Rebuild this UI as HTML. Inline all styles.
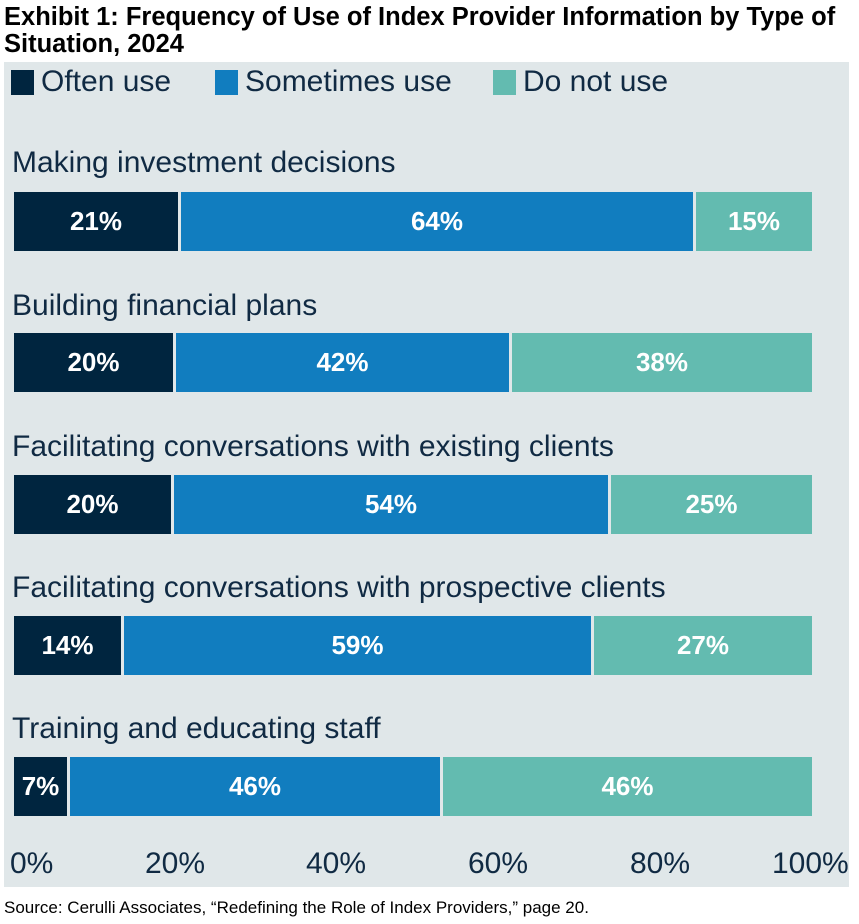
<!DOCTYPE html>
<html><head><style>
body{margin:0;width:859px;height:924px;background:#fff;position:relative;overflow:hidden;font-family:"Liberation Sans",sans-serif}
.t{position:absolute;left:4px;top:4px;font-weight:bold;font-size:25.5px;line-height:27px;color:#000;white-space:nowrap}
.p{position:absolute;left:4px;top:62px;width:845px;height:825px;background:#e0e7e9}
.a{position:absolute;white-space:nowrap;color:#102a43;font-size:30px}
.s{position:absolute;height:59px;color:#fff;font-weight:bold;font-size:26px;line-height:59px;text-align:center}
.d{background:#00253f}.b{background:#117dbf}.g{background:#63bbb0}
.src{position:absolute;left:4px;top:898px;font-size:17px;color:#000;white-space:nowrap}
.sq{position:absolute;top:70px;width:23px;height:25px}
</style></head><body>
<div class="t">Exhibit 1: Frequency of Use of Index Provider Information by Type of<br>Situation, 2024</div>
<div class="p"></div>
<div class="sq d" style="left:11px"></div><div class="a" style="left:41px;top:65px">Often use</div>
<div class="sq b" style="left:215px"></div><div class="a" style="left:245px;top:65px">Sometimes use</div>
<div class="sq g" style="left:493px"></div><div class="a" style="left:523px;top:65px">Do not use</div>

<div class="a" style="left:12px;top:146px">Making investment decisions</div>
<div class="s d" style="left:14px;top:192px;width:164px">21%</div>
<div class="s b" style="left:181px;top:192px;width:512px">64%</div>
<div class="s g" style="left:696px;top:192px;width:116px">15%</div>

<div class="a" style="left:12px;top:289px">Building financial plans</div>
<div class="s d" style="left:14px;top:333px;width:159px">20%</div>
<div class="s b" style="left:176px;top:333px;width:333px">42%</div>
<div class="s g" style="left:512px;top:333px;width:300px">38%</div>

<div class="a" style="left:12px;top:430px">Facilitating conversations with existing clients</div>
<div class="s d" style="left:14px;top:475px;width:157px">20%</div>
<div class="s b" style="left:174px;top:475px;width:434px">54%</div>
<div class="s g" style="left:611px;top:475px;width:201px">25%</div>

<div class="a" style="left:12px;top:571px">Facilitating conversations with prospective clients</div>
<div class="s d" style="left:14px;top:616px;width:107px">14%</div>
<div class="s b" style="left:124px;top:616px;width:467px">59%</div>
<div class="s g" style="left:594px;top:616px;width:218px">27%</div>

<div class="a" style="left:12px;top:712px">Training and educating staff</div>
<div class="s d" style="left:14px;top:757px;width:53px">7%</div>
<div class="s b" style="left:70px;top:757px;width:370px">46%</div>
<div class="s g" style="left:443px;top:757px;width:369px">46%</div>

<div class="a" style="left:10px;top:847px">0%</div>
<div class="a" style="left:145px;top:847px">20%</div>
<div class="a" style="left:306px;top:847px">40%</div>
<div class="a" style="left:468px;top:847px">60%</div>
<div class="a" style="left:630px;top:847px">80%</div>
<div class="a" style="left:772px;top:847px">100%</div>
<div class="src">Source: Cerulli Associates, “Redefining the Role of Index Providers,” page 20.</div>
</body></html>
